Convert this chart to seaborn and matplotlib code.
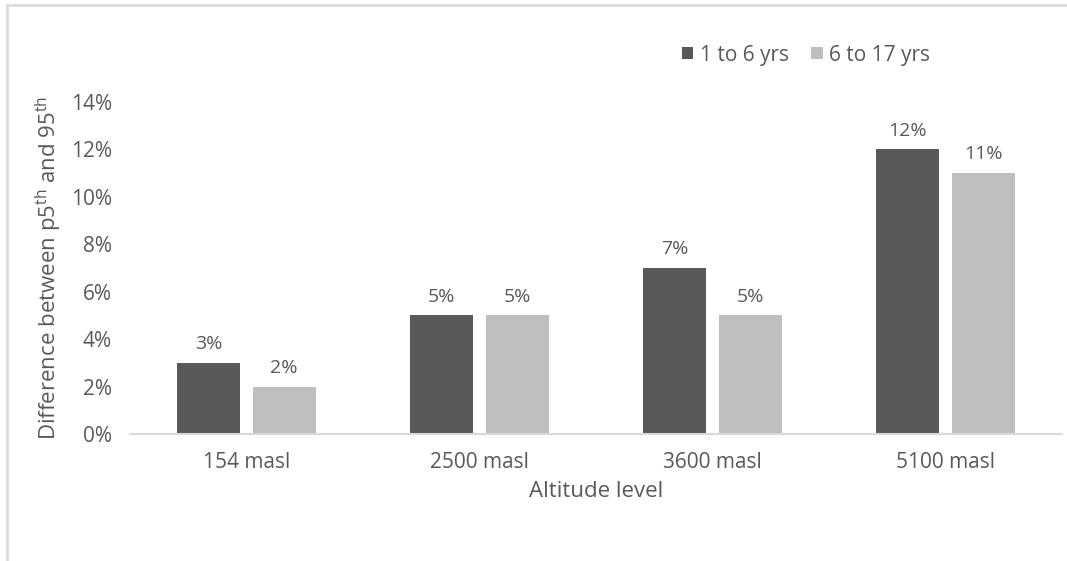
import matplotlib
matplotlib.use("Agg")
import matplotlib.pyplot as plt
from matplotlib.lines import Line2D
from matplotlib.patches import Patch
import seaborn as sns
import pandas as pd

# Data
altitudes = ["154 masl", "2500 masl", "3600 masl", "5100 masl"]
age_groups = ["1 to 6 yrs", "6 to 17 yrs"]
young = [0.03, 0.05, 0.07, 0.12]
older = [0.02, 0.05, 0.05, 0.11]
y_ticks = [0.0, 0.02, 0.04, 0.06, 0.08, 0.10, 0.12, 0.14]

df = pd.DataFrame({
    "Altitude": altitudes * 2,
    "Group": [age_groups[0]] * 4 + [age_groups[1]] * 4,
    "Value": young + older,
})

sns.set_theme(style="white")
plt.rcParams["font.family"] = ["Open Sans", "DejaVu Sans"]
plt.rcParams["mathtext.fontset"] = "custom"
plt.rcParams["mathtext.rm"] = "Open Sans"
plt.rcParams["mathtext.it"] = "Open Sans"

TEXT = "#595959"
colors = {age_groups[0]: "#595959", age_groups[1]: "#bfbfbf"}

fig = plt.figure(figsize=(10.67, 5.61), dpi=100)
ax = fig.add_axes([0.1218, 0.2264, 0.8735, 0.5918])

sns.barplot(data=df, x="Altitude", y="Value", hue="Group", order=altitudes,
            hue_order=age_groups, palette=colors, width=0.648, gap=0.167,
            linewidth=0, legend=False, ax=ax)

for container in ax.containers:
    ax.bar_label(container, labels=[f"{v*100:.0f}%" for v in container.datavalues],
                 padding=7, fontsize=14, color=TEXT)

ax.set_ylim(0, 0.14)
ax.set_yticks(y_ticks)
ax.set_yticklabels([f"{t*100:.0f}%" for t in y_ticks])
ax.set_xlim(-0.5, 3.5)

for side in ["top", "right", "left"]:
    ax.spines[side].set_visible(False)
ax.spines["bottom"].set_color("#d9d9d9")
ax.spines["bottom"].set_linewidth(1.5)

ax.tick_params(axis="x", length=0, pad=13, labelsize=15, labelcolor=TEXT)
ax.tick_params(axis="y", length=0, pad=13, labelsize=15, labelcolor=TEXT)

ax.set_xlabel("Altitude level", fontsize=16, color=TEXT, labelpad=6)
ax.set_ylabel(r"Difference between p5$^{\mathrm{th}}$ and 95$^{\mathrm{th}}$",
              fontsize=16, color=TEXT, labelpad=5)

handles = [Patch(facecolor=colors[g], edgecolor="none") for g in age_groups]
fig.legend(handles, age_groups, loc="center", bbox_to_anchor=(806 / 1067, 1 - 55 / 561),
           ncol=2, frameon=False, fontsize=15, handlelength=0.55, handleheight=0.55,
           handletextpad=0.3, columnspacing=1.1, labelcolor=TEXT)

# Light frame around the chart area
fig.add_artist(Line2D([7 / 1067, 1.0], [1 - 5 / 561, 1 - 5 / 561],
                      transform=fig.transFigure, color="#d9d9d9", lw=1.8))
fig.add_artist(Line2D([7 / 1067, 7 / 1067], [0.0, 1 - 5 / 561],
                      transform=fig.transFigure, color="#d9d9d9", lw=1.8))

fig.savefig("out.png", dpi=100, facecolor="white")
